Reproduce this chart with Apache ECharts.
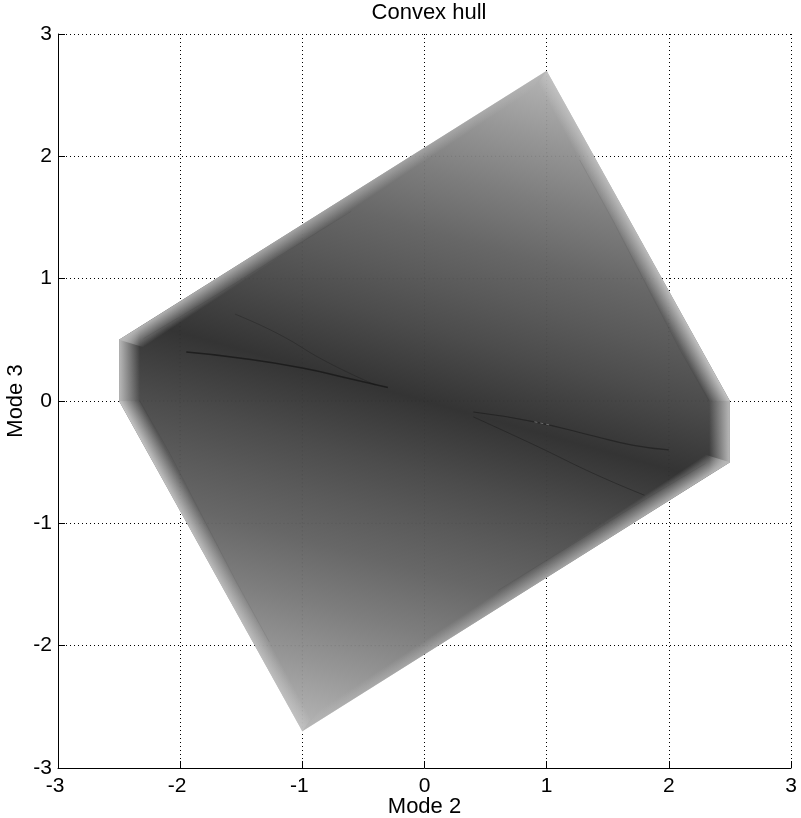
<!DOCTYPE html>
<html><head><meta charset="utf-8">
<style>html,body{margin:0;padding:0;background:#fff}#c{width:801px;height:818px}</style>
<script src="https://cdn.jsdelivr.net/npm/echarts@6/dist/echarts.min.js"></script>
</head><body><div id="c"></div>
<script>
const hullX = [1, 2.5, 2.5, -1, -2.5, -2.5];
const hullY = [2.7, 0, -0.5, -2.7, 0, 0.5];
// grey profile read across the hull, from the top corner to the bottom corner
const shadeLevels = [2.98, 2.4, 1.9, 1.4, 1, 0.6, 0.25, 0, -0.25, -0.6, -1, -1.4, -1.9, -2.4, -2.98];
const shadeGrays  = [182, 150, 125, 103, 90, 76, 62, 52, 62, 76, 90, 103, 125, 150, 182];
const shadeTilt = [0.28, 1];
// edge fades: outer edge a-b, inner edge c-d, edge grey
const edgeFades = [
  {a:[-2.5,0.5], b:[1,2.7], c:[0.85,2.52], d:[-2.3,0.44], g:185},
  {a:[2.5,-0.5], b:[-1,-2.7], c:[-0.85,-2.52], d:[2.3,-0.44], g:185},
  {a:[1,2.7], b:[2.5,0], c:[2.33,0], d:[0.93,2.6], g:198},
  {a:[-1,-2.7], b:[-2.5,0], c:[-2.33,0], d:[-0.93,-2.6], g:198},
  {a:[2.5,0], b:[2.5,-0.5], c:[2.33,-0.607], d:[2.33,0], g:185},
  {a:[-2.5,0.5], b:[-2.5,0], c:[-2.33,0], d:[-2.33,0.607], g:185}
];
const creases = [
  [[-1.95,0.4],[-1.5,0.35],[-1,0.27],[-0.6,0.18],[-0.3,0.11]],
  [[-1.55,0.71],[-1.2,0.55],[-0.8,0.32],[-0.4,0.13]],
  [[0.4,-0.09],[0.9,-0.17],[1.4,-0.29],[1.7,-0.36],[2,-0.4]],
  [[0.4,-0.13],[0.9,-0.36],[1.4,-0.6],[1.8,-0.77]]
];
const creaseWidths = [1.6, 1, 1.2, 1];
const creaseAlpha  = [0.7, 0.3, 0.5, 0.4];
const innerLines = [
  [[1.27,1.97],[1.54,1.48],[2.09,0.42],[2.33,0]],
  [[-1.27,-1.97],[-1.54,-1.48],[-2.09,-0.42],[-2.33,0]],
  [[-2.3,0.51],[-1.73,0.85],[-0.6,1.55]],
  [[2.3,-0.51],[1.73,-0.85],[0.6,-1.55]]
];
const lightSpeck = [[0.9,-0.17],[1.02,-0.195]];
// faint grid rows seen through the hull
const throughGrid = [
  [[-2.5,0],[2.5,0]], [[-1.7,1],[1.94,1]], [[-0.11,2],[1.39,2]],
  [[-1.94,-1],[1.7,-1]], [[-1.39,-2],[0.11,-2]],
  [[-1,-2.7],[-1,1.44]], [[1,-1.44],[1,2.7]], [[0,-2.07],[0,2.07]],
  [[-2,-0.9],[-2,0.81]], [[2,-0.81],[2,0.9]]
];
const hullPoints = hullX.map((x,i)=>[x,hullY[i]]);
const grey = (g,a)=>`rgba(${g},${g},${g},${a})`;

const chart = echarts.init(document.getElementById('c'), null, {renderer:'canvas'});
const font = 'Liberation Sans';
const axisCommon = {
  type:'value', min:-3, max:3, interval:1,
  nameLocation:'middle', nameMoveOverlap:false,
  nameTextStyle:{fontFamily:font,fontSize:22,color:'#000'},
  axisLine:{onZero:false,lineStyle:{color:'#000',width:1}},
  axisTick:{inside:true,length:7,lineStyle:{color:'#000',width:1}},
  axisLabel:{fontFamily:font,fontSize:21,color:'#000'},
  splitLine:{show:true,lineStyle:{color:'#000',width:1,type:[1,3]}}
};
const lineSeries = (pts,w,a,smooth,type,z,color)=>({type:'line',data:pts,symbol:'none',silent:true,z:z,smooth:smooth,
  lineStyle:{color:color||'#141414',width:w,opacity:a,type:type}});
chart.setOption({
  animation:false,
  title:{text:'Convex hull',left:424,top:-3,textAlign:'center',
    textStyle:{fontFamily:font,fontSize:22,fontWeight:'normal',color:'#000'}},
  grid:{left:58,right:10,top:34,bottom:50,outerBoundsMode:'none',containLabel:false},
  xAxis:{...axisCommon,name:'Mode 2',nameGap:28,
    axisLabel:{...axisCommon.axisLabel,margin:8,
      formatter:v=>v<0?`{n|${v}}`:String(v),
      rich:{n:{fontFamily:font,fontSize:21,color:'#000',padding:[0,6,0,0]}}}},
  yAxis:{...axisCommon,name:'Mode 3',nameGap:31,
    axisLabel:{...axisCommon.axisLabel,margin:6,padding:[4,0,0,0]}},
  series:[
    {type:'custom',coordinateSystem:'cartesian2d',silent:true,z:3,clip:false,
     data:[[0,0]],encode:{x:0,y:1},
     renderItem:(p,api)=>{
       const pts = hullPoints.map(h=>api.coord(h));
       const n2 = shadeTilt[0]*shadeTilt[0]+shadeTilt[1]*shadeTilt[1];
       const top = shadeLevels[0], bot = shadeLevels[shadeLevels.length-1];
       const a = api.coord([shadeTilt[0]*top/n2,shadeTilt[1]*top/n2]);
       const b = api.coord([shadeTilt[0]*bot/n2,shadeTilt[1]*bot/n2]);
       return {type:'polygon',shape:{points:pts},style:{
         fill:{type:'linear',x:a[0],y:a[1],x2:b[0],y2:b[1],global:true,
           colorStops:shadeLevels.map((t,i)=>({offset:(top-t)/(top-bot),color:grey(shadeGrays[i],1)}))}}};
     }},
    ...throughGrid.map(g=>lineSeries(g,1,0.13,false,[1,3],5)),
    {type:'custom',coordinateSystem:'cartesian2d',silent:true,z:6,clip:false,
     data:edgeFades.map((e,i)=>[i,0]),encode:{x:0,y:1},
     renderItem:(p,api)=>{
       const f = edgeFades[p.dataIndex];
       const A=api.coord(f.a),B=api.coord(f.b),C=api.coord(f.c),D=api.coord(f.d);
       const ex=D[0]-C[0],ey=D[1]-C[1],L=Math.hypot(ex,ey);
       const nx=-ey/L,ny=ex/L;
       const da=(A[0]-C[0])*nx+(A[1]-C[1])*ny, db=(B[0]-C[0])*nx+(B[1]-C[1])*ny;
       const w=Math.abs(da)>Math.abs(db)?da:db;
       return {type:'polygon',shape:{points:[A,B,C,D]},style:{
         fill:{type:'linear',x:C[0]+nx*w,y:C[1]+ny*w,x2:C[0],y2:C[1],global:true,
           colorStops:[{offset:0,color:grey(f.g,1)},{offset:1,color:grey(f.g,0)}]}}};
     }},
    ...innerLines.map(l=>lineSeries(l,1,0.08,false,'solid',7)),
    ...creases.map((c,i)=>lineSeries(c,creaseWidths[i],creaseAlpha[i],true,'solid',8)),
    lineSeries(lightSpeck,1,0.5,false,[3,3],9,'#b0b0b0')
  ]
});
</script></body></html>
